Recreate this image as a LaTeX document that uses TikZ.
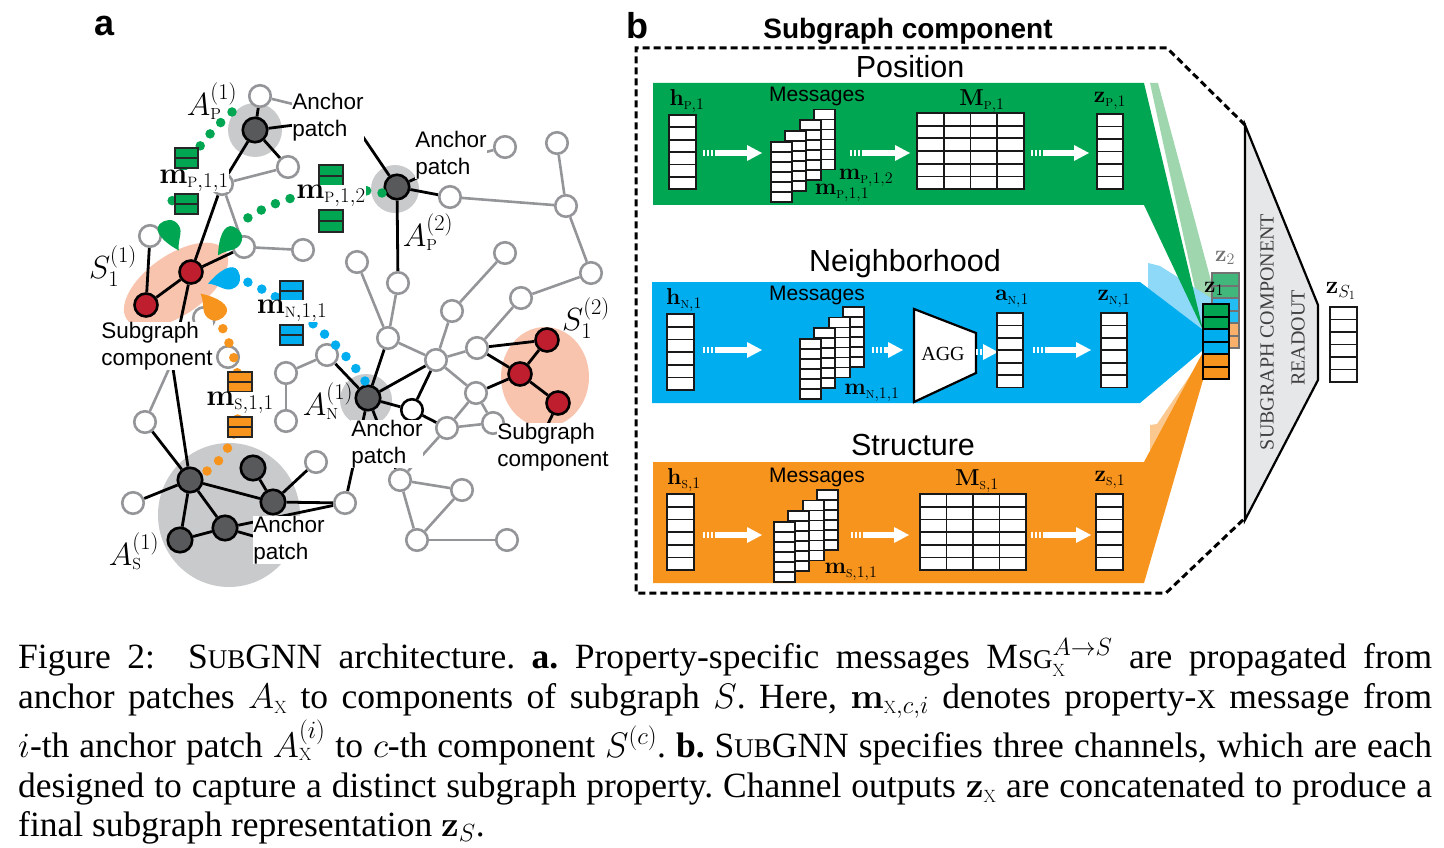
\documentclass[tikz,border=0pt]{standalone}
\usepackage{fix-cm}
\usepackage{amsmath}
\usepackage[no-math]{fontspec}
\setmainfont{Liberation Serif}
\setsansfont{Liberation Sans}
\usetikzlibrary{calc}
\pgfdeclarelayer{back}
\pgfdeclarelayer{bg}
\pgfsetlayers{back,bg,main}
\definecolor{pgreen}{HTML}{00A651}
\definecolor{pblue}{HTML}{00AEEF}
\definecolor{porange}{HTML}{F7941D}
\definecolor{lgreen}{HTML}{9FD6AE}
\definecolor{lblue}{HTML}{8ED8F8}
\definecolor{lorange}{HTML}{FBC88F}
\definecolor{zgreen}{HTML}{41B77B}
\definecolor{zblue}{HTML}{22BDF2}
\definecolor{zorange}{HTML}{F9B06B}
\definecolor{edgegray}{HTML}{939598}
\definecolor{darknode}{HTML}{58595B}
\definecolor{rednode}{HTML}{BE1E2D}
\definecolor{halo}{HTML}{C9CACC}
\definecolor{salmon}{HTML}{F8C4AE}
\definecolor{readout}{HTML}{E6E7E8}
\definecolor{readtxt}{HTML}{404040}
\frenchspacing
\newcommand\chn[1]{{\scriptscriptstyle\mathrm{#1}}}
\newcommand\capsm{\fontsize{27}{27}\selectfont}
\newcommand\mkcol[5]{\foreach \k in {1,...,#5}{\draw[cellsty] ({#1},{#2+(\k-1)*#4}) rectangle ++(#3,#4);}}
\newcommand\mkmat[6]{\foreach \i in {1,...,#5}{\foreach \j in {1,...,#6}{\draw[cellsty] ({#1+(\i-1)*#3},{#2+(\j-1)*#4}) rectangle ++(#3,#4);}}}
\newcommand\mkstack[2]{\foreach \s in {3,2,1,0}{\mkcol{#1+\s*14.3}{#2-\s*10.8}{21}{10}{6}}}
\newcommand\mkarrow[3]{%
  \fill[white] ({#1},{#3-3}) rectangle ++(2,6);
  \fill[white] ({#1+4},{#3-3}) rectangle ++(2,6);
  \fill[white] ({#1+8},{#3-3}) rectangle ++(2,6);
  \fill[white] ({#1+12},{#3-3}) rectangle ({#2-15},{#3+3});
  \fill[white] ({#2-15},{#3-8}) -- ({#2},{#3}) -- ({#2-15},{#3+8}) -- cycle;}
\newcommand\msgbox[5]{%
  \filldraw[fill=#1,draw=black!85,line width=1.8pt] ({#2},{#3}) rectangle ++(#4,#5);
  \draw[black!85,line width=1.8pt] ({#2},{#3+#5/2}) -- ++(#4,0);}
\newcommand\leaf[4]{%
  \fill[#1,shift={(#2,#3)},rotate=#4,scale=1.3] (13,0) .. controls (6,-3) and (3,-10) .. (-3,-10) .. controls (-11,-10) and (-13,-3) .. (-12,2) .. controls (-10,9) and (1,7) .. (13,0) -- cycle;}
\tikzset{
 gn/.style={circle,draw=edgegray,line width=2.6pt,fill=white,minimum size=21.5pt,inner sep=0pt},
 bkn/.style={circle,draw=black,line width=2.6pt,fill=white,minimum size=21.5pt,inner sep=0pt},
 dkn/.style={circle,draw=black,line width=2.6pt,fill=darknode,minimum size=24.5pt,inner sep=0pt},
 rdn/.style={circle,draw=black,line width=2.6pt,fill=rednode,minimum size=23pt,inner sep=0pt},
 ge/.style={draw=edgegray,line width=2.6pt},
 be/.style={draw=black,line width=2.8pt},
 dotsty/.style={line width=9.5pt,line cap=round,dash pattern=on 0pt off 15.5pt},
 lbl/.style={font=\sffamily\fontsize{22.5}{27}\selectfont,align=left,fill=white,inner sep=0.5pt},
 mlbl/.style={font=\fontsize{30}{30}\selectfont,inner sep=0.5pt},
 albl/.style={font=\fontsize{32}{32}\selectfont,inner sep=0pt},
 cellsty/.style={draw=black!90,line width=1.8pt,fill=white},
 ttl/.style={font=\sffamily\fontsize{30.5}{30.5}\selectfont},
 msgt/.style={font=\sffamily\fontsize{21}{21}\selectfont},
 bl/.style={font=\fontsize{23}{23}\selectfont,inner sep=0pt},
 captxt/.style={font=\rmfamily\fontsize{35.5}{40}\selectfont,anchor=base west,inner sep=0pt},
 panel/.style={font=\sffamily\bfseries\fontsize{36}{36}\selectfont}
}
\begin{document}
\begin{tikzpicture}[x=1pt,y=-1pt]
\useasboundingbox (0,0) rectangle (1444,848);

% ---------------- panel a ----------------
\node[panel] (pa) at (105,26) {a};
\begin{pgfonlayer}{back}
\fill[halo] (255,130) circle (27pt);
\fill[halo] (395,189) circle (24pt);
\fill[halo] (366,400) circle (26pt);
\fill[halo] (229,515) ellipse (71pt and 72pt);
\fill[salmon,rotate around={35:(176,285)}] (176,285) ellipse (60pt and 30pt);
\fill[salmon] (545,377) ellipse (44pt and 50pt);
\end{pgfonlayer}

\node[gn] (g1) at (260,96) {};
\node[gn] (g2) at (288,167) {};
\node[gn] (g3) at (222,184) {};
\node[gn] (g4) at (150,236) {};
\node[gn] (g5) at (244,247) {};
\node[gn] (g6) at (303,250) {};
\node[gn] (g7) at (357,262) {};
\node[gn] (g8) at (450,197) {};
\node[gn] (g9) at (505,147) {};
\node[gn] (g10) at (557,143) {};
\node[gn] (g11) at (566,206) {};
\node[gn] (g12) at (591,273) {};
\node[gn] (g13) at (521,298) {};
\node[gn] (g14) at (505,253) {};
\node[gn] (g15) at (452,311) {};
\node[gn] (g16) at (398,283) {};
\node[gn] (g17) at (388,338) {};
\node[gn] (g18) at (436,360) {};
\node[gn] (g19) at (477,348) {};
\node[gn] (g20) at (476,393) {};
\node[gn] (g21) at (447,428) {};
\node[gn] (g22) at (493,423) {};
\node[gn] (g23) at (327,355) {};
\node[gn] (g24) at (286,373) {};
\node[gn] (g25) at (286,421) {};
\node[gn] (g26) at (145,422) {};
\node[gn] (g27) at (133,503) {};
\node[gn] (g28) at (316,462) {};
\node[gn] (g29) at (345,503) {};
\node[gn] (g30) at (400,480) {};
\node[gn] (g31) at (462,490) {};
\node[gn] (g32) at (417,540) {};
\node[gn] (g33) at (507,540) {};
\node[gn] (g34) at (204,318) {};
\node[gn] (g35) at (228,357) {};
\node[bkn] (bk1) at (412,410) {};
\node[dkn] (ap1) at (255,130) {};
\node[dkn] (ap2) at (397,187) {};
\node[dkn] (an1) at (368,398) {};
\node[dkn] (as1) at (190,480) {};
\node[dkn] (as2) at (253,468) {};
\node[dkn] (as3) at (273,502) {};
\node[dkn] (as4) at (225,528) {};
\node[dkn] (as5) at (180,540) {};
\node[rdn] (r1) at (191,272) {};
\node[rdn] (r2) at (146,305) {};
\node[rdn] (r3) at (547,340) {};
\node[rdn] (r4) at (520,374) {};
\node[rdn] (r5) at (558,403) {};
\coordinate (h1) at (350,118);
\coordinate (h1b) at (338,100);
\coordinate (h2) at (456,160);
\coordinate (h3) at (172,362);
\coordinate (h4) at (295,548);
\coordinate (h5) at (538,445);

\begin{pgfonlayer}{bg}
\draw[ge] (g1) -- (h1);
\draw[ge] (g3) -- (g5);
\draw[ge] (g3) -- (g2);
\draw[ge] (g5) -- (g6);
\draw[ge] (g16) -- (g17);
\draw[ge] (g7) -- (g17);
\draw[ge] (g17) -- (g18);
\draw[ge] (g18) -- (g19);
\draw[ge] (g18) -- (g15);
\draw[ge] (g18) -- (g20);
\draw[ge] (g15) -- (g14);
\draw[ge] (g19) -- (g13);
\draw[ge] (g13) -- (g12);
\draw[ge] (g12) -- (g11);
\draw[ge] (g11) -- (g10);
\draw[ge] (g11) -- (g8);
\draw[ge] (g21) -- (g20);
\draw[ge] (g21) -- (g22);
\draw[ge] (g20) -- (g22);
\draw[ge] (g21) -- (g30);
\draw[ge] (h2) -- (g9);
\draw[ge] (g23) -- (g24);
\draw[ge] (g24) -- (g25);
\draw[ge] (g30) -- (g31);
\draw[ge] (g30) -- (g32);
\draw[ge] (g31) -- (g32);
\draw[ge] (g32) -- (g33);
\draw[ge] (h3) -- (g26);
\draw[be] (ap1) -- (g1);
\draw[be] (ap1) -- (g2);
\draw[be] (ap1) -- (g3);
\draw[be] (ap1) -- (h1);
\draw[be] (h1b) -- (ap2);
\draw[be] (ap2) -- (g8);
\draw[be] (ap2) -- (g16);
\draw[be] (ap2) -- (h2);
\draw[be] (g3) -- (r1);
\draw[be] (g4) -- (r2);
\draw[be] (r1) -- (r2);
\draw[be] (r1) -- (g5);
\draw[be] (r1) -- (h3);
\draw[be] (h3) -- (as1);
\draw[be] (g26) -- (as1);
\draw[be] (g27) -- (as1);
\draw[be] (as1) -- (as5);
\draw[be] (as1) -- (as4);
\draw[be] (as1) -- (as3);
\draw[be] (as2) -- (as3);
\draw[be] (as3) -- (g28);
\draw[be] (as3) -- (g29);
\draw[be] (as5) -- (as4);
\draw[be] (as4) -- (g29);
\draw[be] (as4) -- (h4);
\draw[be] (g29) -- (an1);
\draw[be] (an1) -- (g30);
\draw[be] (an1) -- (g23);
\draw[be] (an1) -- (g17);
\draw[be] (an1) -- (g18);
\draw[be] (an1) -- (bk1);
\draw[be] (bk1) -- (g18);
\draw[be] (bk1) -- (g21);
\draw[be] (g19) -- (r3);
\draw[be] (g19) -- (r4);
\draw[be] (g20) -- (r4);
\draw[be] (r3) -- (r4);
\draw[be] (r4) -- (r5);
\draw[be] (r5) -- (h5);
\end{pgfonlayer}

\draw[dotsty,pgreen] (232,112) .. controls (200,140) and (172,180) .. (170,215);
\draw[dotsty,pgreen] (382,193) .. controls (330,183) and (270,198) .. (237,226);
\draw[dotsty,pblue] (365,381) .. controls (340,345) and (300,305) .. (243,280);
\draw[dotsty,porange] (207,471) .. controls (245,445) and (250,380) .. (220,323);
\leaf{pgreen}{170}{236}{-58.6}
\leaf{pgreen}{227}{241}{-122}
\leaf{pblue}{224}{278}{-160.6}
\leaf{porange}{213}{305}{137.5}
\msgbox{pgreen}{175}{148}{23}{20}
\msgbox{pgreen}{175}{194}{23}{20}
\msgbox{pgreen}{319}{165}{24}{22}
\msgbox{pgreen}{319}{210}{24}{22}
\msgbox{pblue}{280}{281}{23}{20}
\msgbox{pblue}{280}{325}{23}{20}
\msgbox{porange}{228}{372}{24}{20}
\msgbox{porange}{228}{417}{24}{20}
\node[lbl] (L1) at (328,117) {Anchor\\patch};
\node[lbl] (L2) at (451,155) {Anchor\\patch};
\node[lbl] (L3) at (387,444) {Anchor\\patch};
\node[lbl] (L6) at (289,540) {Anchor\\patch};
\node[lbl] (L4) at (157,346) {Subgraph\\component};
\node[lbl] (L5) at (553,447) {Subgraph\\component};
\node[mlbl,fill=white] (m1) at (194,181) {$\mathbf{m}_{\chn{P},1,1}$};
\node[mlbl,fill=white] (m2) at (331,196) {$\mathbf{m}_{\chn{P},1,2}$};
\node[mlbl,fill=white] (m3) at (292,311) {$\mathbf{m}_{\chn{N},1,1}$};
\node[mlbl,fill=white] (m4) at (240,403) {$\mathbf{m}_{\chn{S},1,1}$};
\node[albl] (t1) at (212,101) {$A^{(1)}_{\chn{P}}$};
\node[albl] (t2) at (428,232) {$A^{(2)}_{\chn{P}}$};
\node[albl] (t3) at (113,266) {$S^{(1)}_{1}$};
\node[albl] (t4) at (328,401) {$A^{(1)}_{\chn{N}}$};
\node[albl] (t5) at (586,318) {$S^{(2)}_{1}$};
\node[albl] (t6) at (134,551) {$A^{(1)}_{\chn{S}}$};

% ---------------- panel b ----------------
\node[panel] (pb) at (637,26) {b};
\node[font=\sffamily\bfseries\fontsize{28}{28}\selectfont] (sc) at (908,31) {Subgraph component};
\fill[lgreen] (1150,83) -- (1158,83) -- (1214,292) -- (1204,330) -- cycle;
\fill[lblue] (1148,263) -- (1160,266) -- (1214,300) -- (1204,332) -- (1148,288) -- cycle;
\fill[lorange] (1150,425) -- (1157,424) -- (1213,342) -- (1204,356) -- (1150,456) -- cycle;
\fill[pgreen] (653,83) -- (1144,83) -- (1203,330) -- (1144,205) -- (653,205) -- cycle;
\fill[pblue] (652,282) -- (1140,282) -- (1203,330) -- (1203,350) -- (1140,403) -- (652,403) -- cycle;
\fill[porange] (653,462) -- (1144,462) -- (1203,352) -- (1203,380) -- (1144,583) -- (653,583) -- cycle;
\draw[line width=3pt,dash pattern=on 7pt off 4pt] (1245,125) -- (1167,48) -- (636,48) -- (636,593) -- (1166,593) -- (1245,518);
\node[ttl] (tp) at (910,67) {Position};
\node[ttl] (tn) at (905,264) {Neighborhood};
\node[ttl] (ts) at (913,445) {Structure};
\node[bl] at (687,101) {$\mathbf{h}_{\chn{P},1}$};
\mkcol{669}{115}{27}{12.4}{6}
\mkarrow{703}{762}{153}
\node[msgt] at (817,96) {Messages};
\mkstack{771}{142}
\node[bl] at (866,178) {$\mathbf{m}_{\chn{P},1,2}$};
\node[bl] at (842,193) {$\mathbf{m}_{\chn{P},1,1}$};
\mkarrow{850}{910}{153}
\node[bl] at (982,101) {$\mathbf{M}_{\chn{P},1}$};
\mkmat{917}{113}{26.75}{12.7}{4}{6}
\mkarrow{1031}{1089}{153}
\node[bl] at (1110,101) {$\mathbf{z}_{\chn{P},1}$};
\mkcol{1097}{114}{26}{12.5}{6}
\node[bl] at (684,300) {$\mathbf{h}_{\chn{N},1}$};
\mkcol{667}{314}{27}{12.7}{6}
\mkarrow{703}{762}{350}
\node[msgt] at (817,295) {Messages};
\mkstack{800}{339}
\node[bl] at (872,393) {$\mathbf{m}_{\chn{N},1,1}$};
\mkarrow{872}{903}{350}
\filldraw[fill=white,draw=black,line width=2.2pt] (914,309) -- (976,333) -- (976,373) -- (914,402) -- cycle;
\node[font=\rmfamily\fontsize{20}{20}\selectfont] at (943,354) {AGG};
\mkarrow{976}{998}{352}
\node[bl] at (1012,299) {$\mathbf{a}_{\chn{N},1}$};
\mkcol{997}{313}{26}{12.4}{6}
\mkarrow{1033}{1091}{350}
\node[bl] at (1114,299) {$\mathbf{z}_{\chn{N},1}$};
\mkcol{1101}{313}{26}{12.4}{6}
\node[bl] at (684,480) {$\mathbf{h}_{\chn{S},1}$};
\mkcol{667}{494}{27}{12.7}{6}
\mkarrow{703}{762}{535}
\node[msgt] at (817,477) {Messages};
\mkstack{774}{522}
\node[bl] at (851,572) {$\mathbf{m}_{\chn{S},1,1}$};
\mkarrow{851}{909}{535}
\node[bl] at (977,481) {$\mathbf{M}_{\chn{S},1}$};
\mkmat{920}{494}{26.5}{12.7}{4}{6}
\mkarrow{1031}{1091}{535}
\node[bl] at (1110,480) {$\mathbf{z}_{\chn{S},1}$};
\mkcol{1096}{494}{27}{12.7}{6}
\foreach \c [count=\k from 0] in {zgreen,zgreen,zblue,zblue,zorange,zorange}
  {\filldraw[fill=\c,draw=black!55,line width=2pt] (1212,{273+\k*12.5}) rectangle ++(27,12.5);}
\node[bl,text=black!55] (z2) at (1225,258) {$\mathbf{z}_{2}$};
\foreach \c [count=\k from 0] in {pgreen,pgreen,pblue,pblue,porange,porange}
  {\filldraw[fill=\c,draw=black,line width=2pt] (1203,{304+\k*12.5}) rectangle ++(26,12.5);}
\node[bl] (z1) at (1214,289) {$\mathbf{z}_{1}$};
\filldraw[fill=readout,draw=black,line width=2.2pt] (1245,125) -- (1318,305) -- (1318,380) -- (1245,520) -- cycle;
\node[rotate=90,text=readtxt,font=\rmfamily\fontsize{20}{20}\selectfont] (ro1) at (1267,332) {SUBGRAPH COMPONENT};
\node[rotate=90,text=readtxt,font=\rmfamily\fontsize{20}{20}\selectfont] (ro2) at (1298,338) {READOUT};
\node[font=\fontsize{25}{25}\selectfont,inner sep=0pt] (zs) at (1341,291) {$\mathbf{z}_{S_1}$};
\mkcol{1330}{307}{27}{12.5}{6}

% ---------------- caption ----------------
\node[captxt] at (18,668) {\makebox[1414pt][s]{Figure 2:\ \ S{\capsm UB}GNN architecture. \textbf{a.} Property-specific messages M{\capsm SG}$^{A\rightarrow S}_{\chn{X}}$ are propagated from}};
\node[captxt] at (18,708) {\makebox[1414pt][s]{anchor patches $A_{\chn{X}}$ to components of subgraph $S$. Here, $\mathbf{m}_{\chn{X},c,i}$ denotes property-{\capsm X} message from}};
\node[captxt] at (18,757) {\makebox[1414pt][s]{$i$-th anchor patch $A^{(i)}_{\chn{X}}$ to $c$-th component $S^{(c)}$. \textbf{b.} S{\capsm UB}GNN specifies three channels, which are each}};
\node[captxt] at (18,797) {\makebox[1414pt][s]{designed to capture a distinct subgraph property. Channel outputs $\mathbf{z}_{\chn{X}}$ are concatenated to produce a}};
\node[captxt] at (18,836) {final subgraph representation $\mathbf{z}_{S}$.};
\end{tikzpicture}
\end{document}
